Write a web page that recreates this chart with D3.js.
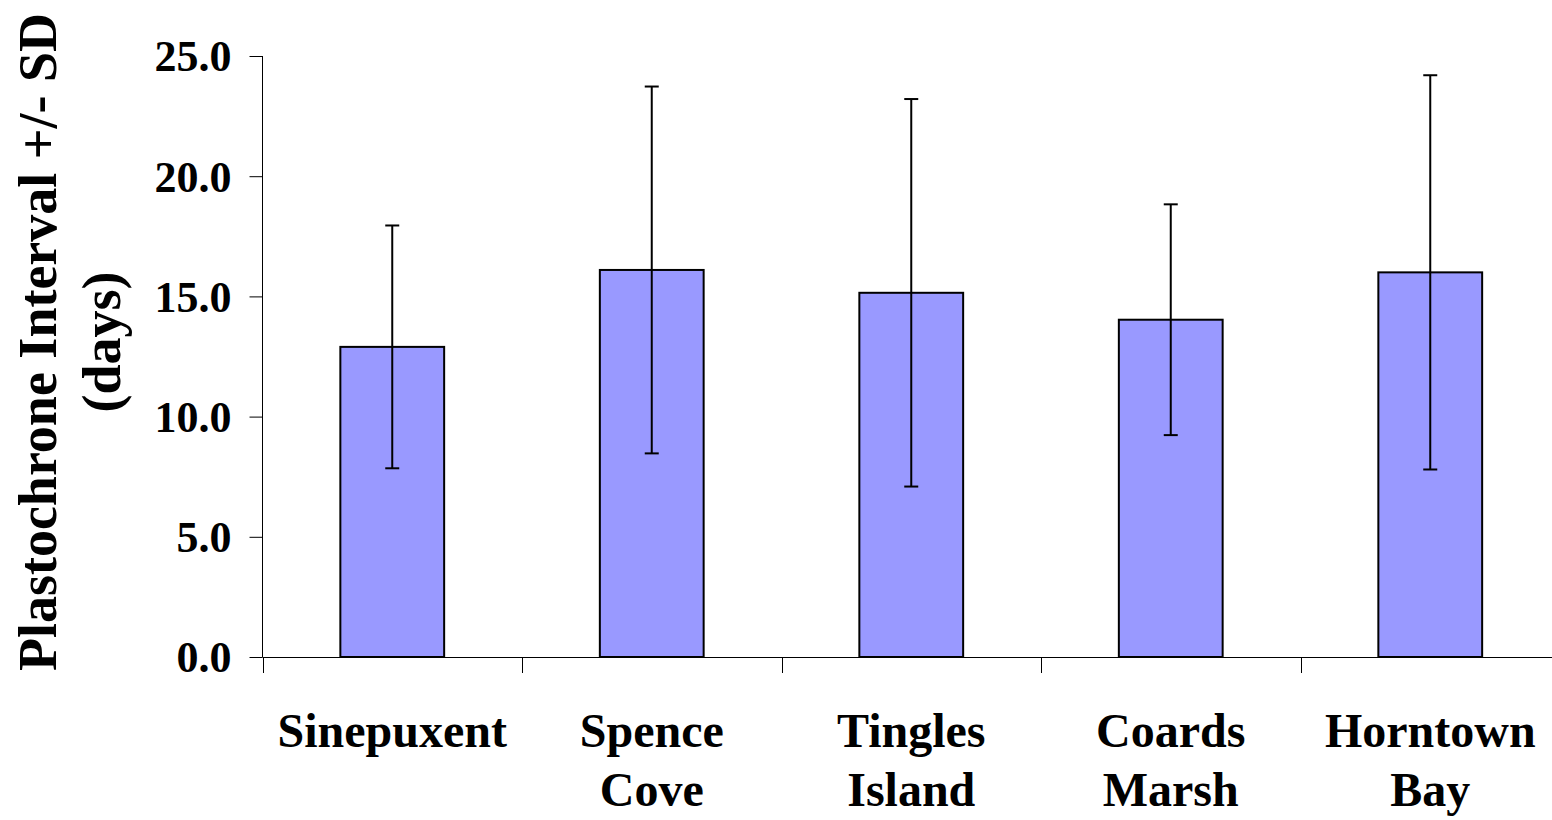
<!DOCTYPE html>
<html>
<head>
<meta charset="utf-8">
<script src="https://cdn.jsdelivr.net/npm/d3@7"></script>
<style>
  body { margin: 0; background: #fff; }
  text { font-family: "Liberation Serif", "Times New Roman", serif; font-weight: bold; fill: #000; }
</style>
</head>
<body>
<div id="chart"></div>
<script>
// sites and their mean plastochrone interval, +/- SD
var sites = [["Sinepuxent"], ["Spence", "Cove"], ["Tingles", "Island"], ["Coards", "Marsh"], ["Horntown", "Bay"]];
var means = [12.9, 16.1, 15.15, 14.03, 16.0];
var sds = [5.05, 7.63, 8.06, 4.8, 8.2];
var yTicks = [0, 5, 10, 15, 20, 25];

var svgWidth = 1552;
var svgHeight = 820;

var svg = d3.select("#chart").append("svg")
    .attr("width", svgWidth)
    .attr("height", svgHeight);

var data = sites.map((s, i) => ({ name: s.join(" "), lines: s, mean: means[i], sd: sds[i] }));

// x spans past the right edge, like the original
var xScale = d3.scaleBand()
    .domain(data.map(d => d.name))
    .range([262.5, 1560]);

var yScale = d3.scaleLinear()
    .domain([0, 25])
    .range([657, 56]);

var barW = xScale.bandwidth() * 0.4;

// y axis
var leftAxis = d3.axisLeft(yScale)
    .tickValues(yTicks)
    .tickSize(13)
    .tickPadding(18)
    .tickFormat(d3.format(".1f"));

var yAxisG = svg.append("g")
    .attr("transform", "translate(262.5,0)")
    .call(leftAxis);
yAxisG.select(".domain").attr("d", `M0,${yScale(25)}V${yScale(0)}`).attr("stroke", "#000");
yAxisG.selectAll(".tick line").attr("stroke", "#000");
yAxisG.selectAll(".tick text")
    .attr("dy", "0.34em")
    .style("font-size", "44px")
    .style("font-family", "Liberation Serif")
    .style("font-weight", "bold");

// x axis line and category dividers
svg.append("line")
    .attr("x1", 262.5).attr("x2", svgWidth)
    .attr("y1", yScale(0) + 0.5).attr("y2", yScale(0) + 0.5)
    .attr("stroke", "#000");

svg.selectAll(".xtick")
    .data(data)
    .enter()
    .append("line")
    .attr("class", "xtick")
    .attr("x1", d => Math.round(xScale(d.name)) + 0.5)
    .attr("x2", d => Math.round(xScale(d.name)) + 0.5)
    .attr("y1", yScale(0))
    .attr("y2", yScale(0) + 16)
    .attr("stroke", "#000");

// bars
svg.selectAll(".bar")
    .data(data)
    .enter()
    .append("rect")
    .attr("class", "bar")
    .attr("x", d => xScale(d.name) + (xScale.bandwidth() - barW) / 2)
    .attr("width", barW)
    .attr("y", d => yScale(d.mean))
    .attr("height", d => yScale(0) - yScale(d.mean))
    .attr("fill", "#9999ff")
    .attr("stroke", "#000")
    .attr("stroke-width", 2);

// error bars
var errG = svg.selectAll(".err")
    .data(data)
    .enter()
    .append("g")
    .attr("class", "err")
    .attr("transform", d => `translate(${xScale(d.name) + xScale.bandwidth() / 2},0)`)
    .attr("stroke", "#000")
    .attr("stroke-width", 2);

errG.append("line")
    .attr("y1", d => yScale(d.mean + d.sd))
    .attr("y2", d => yScale(d.mean - d.sd));
errG.append("line")
    .attr("x1", -7).attr("x2", 7)
    .attr("y1", d => yScale(d.mean + d.sd))
    .attr("y2", d => yScale(d.mean + d.sd));
errG.append("line")
    .attr("x1", -7).attr("x2", 7)
    .attr("y1", d => yScale(d.mean - d.sd))
    .attr("y2", d => yScale(d.mean - d.sd));

// category labels
var labels = svg.selectAll(".cat")
    .data(data)
    .enter()
    .append("text")
    .attr("class", "cat")
    .attr("text-anchor", "middle")
    .style("font-size", "48px");

labels.selectAll("tspan")
    .data(d => d.lines.map(l => ({ l: l, x: xScale(d.name) + xScale.bandwidth() / 2 })))
    .enter()
    .append("tspan")
    .attr("x", d => d.x)
    .attr("y", (d, i) => 747 + i * 59)
    .text(d => d.l);

// y axis title
var title = svg.append("text")
    .attr("transform", "translate(0,342) rotate(-90)")
    .attr("text-anchor", "middle")
    .style("font-size", "54px");

title.append("tspan").attr("x", 0).attr("y", 56).text("Plastochrone Interval +/- SD");
title.append("tspan").attr("x", 0).attr("y", 120).text("(days)");
</script>
</body>
</html>
